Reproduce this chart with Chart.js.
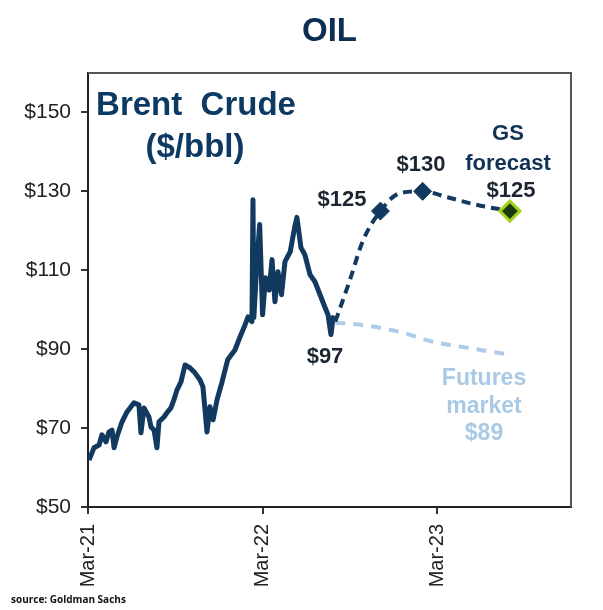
<!DOCTYPE html>
<html>
<head>
<meta charset="utf-8">
<script src="https://cdn.jsdelivr.net/npm/chart.js@4"></script>
<style>
  body { margin: 0; background: #fff; }
  #wrap { position: relative; width: 603px; height: 610px; }
</style>
</head>
<body>
<div id="wrap"><canvas id="oilChart"></canvas></div>
<script>
// months counted from Mar-21 (0 = Mar-21, 12 = Mar-22, 24 = Mar-23)
const brentMonths = [0.07, 0.41, 0.76, 0.96, 1.24, 1.44, 1.65, 1.79, 1.99, 2.34, 2.68, 3.16, 3.5, 3.64, 3.85,
  4.19, 4.33, 4.54, 4.74, 4.88, 5.22, 5.43, 5.7, 5.91, 6.12, 6.39, 6.67, 7.0, 7.35, 7.7, 7.9, 8.18, 8.38,
  8.6, 8.87, 9.2, 9.6, 10.1, 10.45, 10.8, 11.0, 11.27, 11.34, 11.4, 11.6, 11.8, 12.0, 12.2, 12.45, 12.65,
  12.85, 13.06, 13.3, 13.54, 13.9, 14.2, 14.36, 14.64, 14.9, 15.26, 15.6, 15.95, 16.3, 16.5, 16.7, 16.84, 17.0];
const brentPrices = [61.9, 65.0, 65.7, 68.3, 66.5, 69.0, 69.5, 65.0, 67.8, 71.6, 74.1, 76.4, 75.9, 68.8, 75.1,
  72.8, 70.3, 69.5, 65.0, 71.6, 72.8, 73.9, 75.1, 77.2, 79.7, 81.7, 86.0, 85.3, 84.0, 82.2, 80.5, 69.0, 75.4,
  72.1, 77.2, 81.5, 87.3, 89.8, 93.1, 96.2, 98.2, 97.0, 127.9, 98.0, 111.4, 121.6, 98.7, 108.1, 105.0, 112.7,
  102.0, 109.6, 103.8, 112.2, 114.7, 120.8, 123.4, 115.7, 114.0, 108.9, 107.1, 103.8, 100.5, 98.7, 93.7, 98.0, 97.0];

const gsMonths = [17.0, 18.0, 18.9, 20.1, 21.4, 23.0, 24.7, 26.7, 29.0];
const gsPrices = [97, 107.5, 117.5, 125, 129.5, 130, 128.5, 126.6, 125];

const gsMarkerMonths = [20.1, 23.0, 29.0];
const gsMarkerPrices = [125, 130, 125];

const futuresMonths = [17.0, 18.5, 21.4, 23.7, 26.0, 29.0];
const futuresPrices = [96.7, 96.3, 94.4, 91.9, 90.4, 88.6];

const xTickValues = [0, 12, 24];
const xTickLabels = ['Mar-21', 'Mar-22', 'Mar-23'];
const yTickValues = [50, 70, 90, 110, 130, 150];

const navy = '#123a60';
const FONT = "'Liberation Sans', Arial, sans-serif";

function toPoints(xs, ys) {
  return xs.map((x, i) => ({ x: x, y: ys[i] }));
}

// free text on the chart, in pixel positions
const labels = [
  { text: 'Brent  Crude', x: 196, y: 106, size: 33, color: '#0d3a63' },
  { text: '($/bbl)', x: 195, y: 148, size: 33, color: '#0d3a63' },
  { text: '$125', x: 342, y: 200, size: 22, color: '#1c2633' },
  { text: '$130', x: 421, y: 165, size: 22, color: '#1c2633' },
  { text: 'GS', x: 508, y: 134, size: 22, color: '#0f3256' },
  { text: 'forecast', x: 508, y: 164, size: 22, color: '#0f3256' },
  { text: '$125', x: 511, y: 191, size: 22, color: '#1c2633' },
  { text: '$97', x: 325, y: 357, size: 22, color: '#1c2633' },
  { text: 'Futures', x: 484, y: 379, size: 23, color: '#a9c9e5' },
  { text: 'market', x: 484, y: 407, size: 23, color: '#a9c9e5' },
  { text: '$89', x: 484, y: 434, size: 23, color: '#a9c9e5' }
];

const textPlugin = {
  id: 'textPlugin',
  afterDraw(chart) {
    const ctx = chart.ctx;
    const a = chart.chartArea;
    ctx.save();
    // top and right frame
    ctx.strokeStyle = '#555';
    ctx.lineWidth = 2;
    ctx.beginPath();
    ctx.moveTo(a.left, a.top);
    ctx.lineTo(a.right, a.top);
    ctx.lineTo(a.right, a.bottom);
    ctx.stroke();

    ctx.textAlign = 'center';
    ctx.textBaseline = 'middle';
    labels.forEach(l => {
      ctx.font = 'bold ' + l.size + 'px ' + FONT;
      ctx.fillStyle = l.color;
      ctx.fillText(l.text, l.x, l.y);
    });

    ctx.font = "bold 10px 'Open Sans', sans-serif";
    ctx.fillStyle = '#111';
    ctx.textAlign = 'left';
    ctx.fillText('source: Goldman Sachs', 11, 600);
    ctx.restore();
  }
};

document.addEventListener('DOMContentLoaded', () => {
  const ctx = document.getElementById('oilChart').getContext('2d');
  new Chart(ctx, {
    type: 'line',
    data: {
      datasets: [
        {
          label: 'GS markers',
          data: toPoints(gsMarkerMonths, gsMarkerPrices),
          showLine: false,
          pointStyle: 'rectRot',
          pointRadius: [9, 9, 10],
          backgroundColor: [navy, navy, '#1c3a10'],
          borderColor: [navy, navy, '#a0d21c'],
          pointBorderWidth: [1, 1, 3],
          order: 0
        },
        {
          label: 'GS forecast',
          data: toPoints(gsMonths, gsPrices),
          borderColor: navy,
          borderWidth: 4,
          borderDash: [9, 6],
          cubicInterpolationMode: 'monotone',
          pointRadius: 0,
          order: 1
        },
        {
          label: 'Brent',
          data: toPoints(brentMonths, brentPrices),
          borderColor: navy,
          borderWidth: 5,
          borderJoinStyle: 'round',
          pointRadius: 0,
          tension: 0,
          order: 3
        },
        {
          label: 'Futures',
          data: toPoints(futuresMonths, futuresPrices),
          borderColor: 'rgba(165, 198, 228, 0.9)',
          borderWidth: 4,
          borderDash: [10, 8],
          cubicInterpolationMode: 'monotone',
          pointRadius: 0,
          order: 2
        }
      ]
    },
    options: {
      responsive: true,
      maintainAspectRatio: false,
      animation: false,
      layout: { padding: { left: 0, right: 32, top: 0, bottom: 0 } },
      plugins: {
        legend: { display: false },
        tooltip: { enabled: false },
        title: {
          display: true,
          text: 'OIL',
          fullSize: false,
          color: '#0d2d52',
          font: { family: FONT, size: 33, weight: 'bold' },
          padding: { top: 12, bottom: 21.4 }
        }
      },
      scales: {
        x: {
          type: 'linear',
          min: 0,
          max: 33.2,
          afterBuildTicks: s => { s.ticks = xTickValues.map(v => ({ value: v })); },
          afterFit: s => { s.height = 103; },
          grid: { drawOnChartArea: false, tickLength: 7, color: '#333', lineWidth: 2 },
          border: { color: '#222', width: 2 },
          ticks: {
            minRotation: 90,
            maxRotation: 90,
            padding: 10,
            color: '#222',
            font: { family: FONT, size: 20 },
            callback: v => xTickLabels[xTickValues.indexOf(v)]
          }
        },
        y: {
          min: 50,
          max: 160,
          afterBuildTicks: s => { s.ticks = yTickValues.map(v => ({ value: v })); },
          afterFit: s => { s.width = 88; },
          grid: { drawOnChartArea: false, tickLength: 7, color: '#333', lineWidth: 2 },
          border: { color: '#222', width: 2 },
          ticks: {
            padding: 10,
            color: '#222',
            font: { family: FONT, size: 21 },
            callback: v => '$' + v
          }
        }
      }
    },
    plugins: [textPlugin]
  });
});
</script>
</body>
</html>
